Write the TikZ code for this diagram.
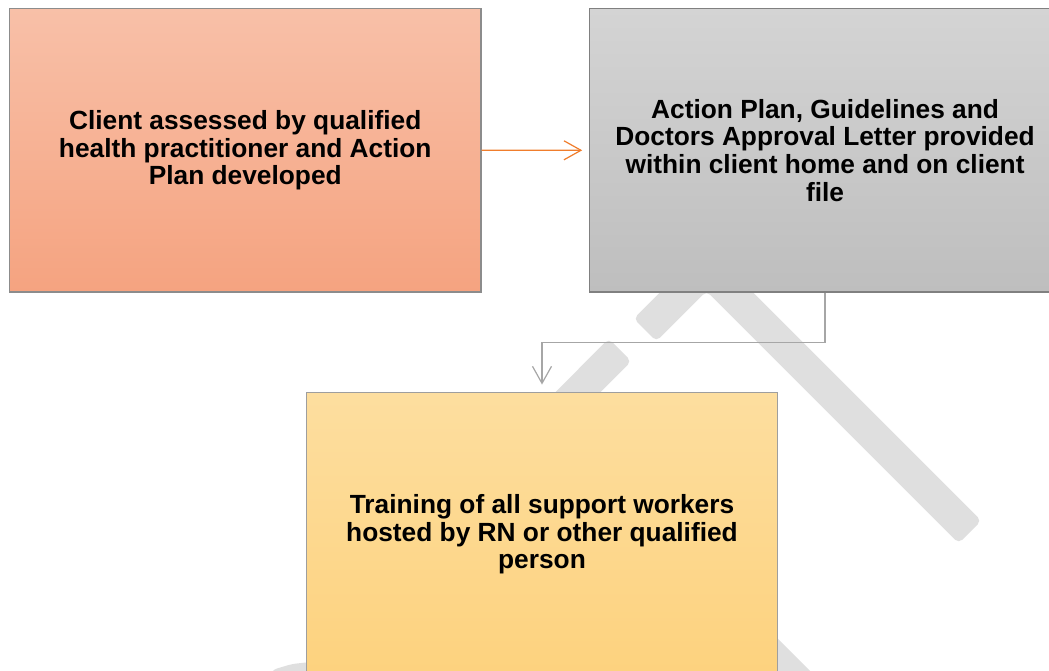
\documentclass[tikz,border=0pt]{standalone}
\usepackage{fontspec}
\setmainfont{Liberation Sans}
\usetikzlibrary{arrows.meta,calc}
\definecolor{wm}{HTML}{DFDFDF}
\definecolor{salmonT}{HTML}{F8C0A8}
\definecolor{salmonB}{HTML}{F5A380}
\definecolor{greyT}{HTML}{D4D4D4}
\definecolor{greyB}{HTML}{BEBEBE}
\definecolor{yelT}{HTML}{FDDE9F}
\definecolor{yelB}{HTML}{FDD27E}
\definecolor{orangecon}{HTML}{F07D2C}
\definecolor{greycon}{HTML}{A6A6A6}
\tikzset{
  stepbox/.style={draw, line width=1.2pt, minimum width=471.5pt, minimum height=283.5pt,
    inner sep=0pt, align=center, font=\bfseries\fontsize{26.3}{27.7}\selectfont},
  wmark/.style={fill=wm, draw=none, rounded corners=5pt},
  con/.style={line width=1.2pt, -{Straight Barb[length=17pt,width=19pt,line width=1.2pt]}}
}
\begin{document}
\begin{tikzpicture}[x=1pt,y=-1pt]
\useasboundingbox (0,0) rectangle (1049,671);
\clip (0,0) rectangle (1049,671);
\fill[white] (0,0) rectangle (1049,671);
% watermark strokes
\path[wmark] (706.5,245.9) -- (981.3,520.7) -- (958.7,543.3) -- (706.5,291.1)
  -- (656.3,341.3) -- (633.7,318.7) -- cycle;
\path[wmark] (631.3,361.3) -- (608.7,338.7) -- (409,539) -- (431,561) -- cycle;
\path[wmark] (661.3,522.3) -- (861.3,722.3) -- (838.7,744.9) -- (638.7,544.9) -- cycle;
\path[wmark] (268,682) -- (272,670) -- (292,664) -- (320,661) -- (320,682) -- cycle;
% boxes
\node[stepbox, draw=black!45, top color=salmonT, bottom color=salmonB] (b1) at (245.25,150.25)
  {Client assessed by qualified\\health practitioner and Action\\Plan developed};
\node[stepbox, draw=black!50, top color=greyT, bottom color=greyB] (b2) at (825.05,150.3)
  {Action Plan, Guidelines and\\Doctors Approval Letter provided\\within client home and on client\\file};
\node[stepbox, draw=black!38, top color=yelT, bottom color=yelB] (b3) at (542,534.4)
  {Training of all support workers\\hosted by RN or other qualified\\person};
% connectors
\draw[con, orangecon, shorten >=6.5pt] (b1.east) -- (b2.west);
\draw[con, greycon, shorten >=7.5pt] (b2.south) -- ++(0,49.5) -| (b3.north);
\end{tikzpicture}
\end{document}
